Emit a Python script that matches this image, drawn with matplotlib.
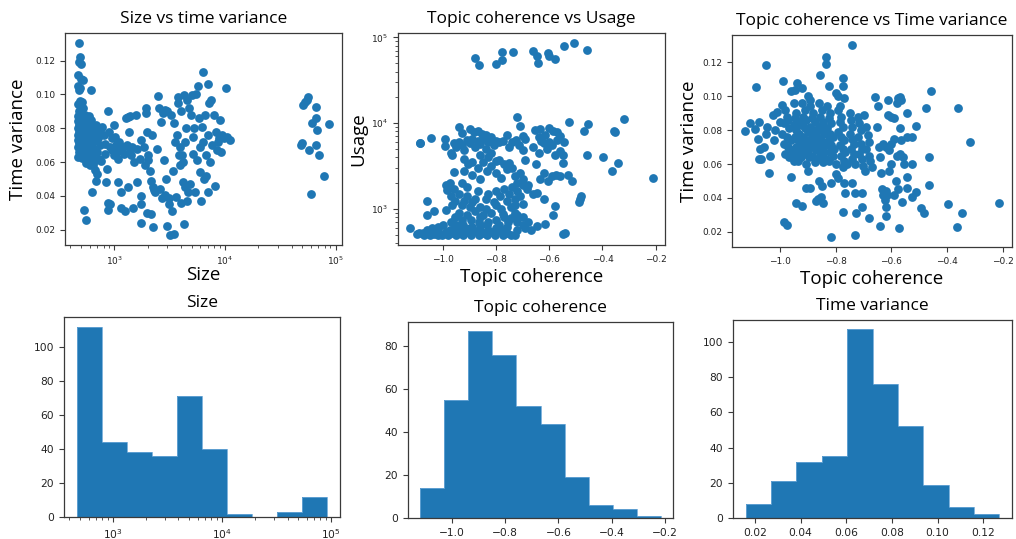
import numpy as np
import matplotlib
matplotlib.use("Agg")
import matplotlib.pyplot as plt

# ---------------- data ----------------
# Scatter 1: Size vs time variance  (size, time variance)
size_tv_pairs = [
    (480,.1307),(492,.1224),(478,.1190),(497,.1183),(472,.1118),(503,.1092),(518,.1086),(470,.1052),
    (492,.1040),(482,.1025),(486,.0962),(512,.0955),(470,.0942),(497,.0930),(522,.0922),(476,.0903),
    (500,.0890),(466,.0872),(490,.0862),(516,.0850),(470,.0842),(502,.0832),(480,.0820),(522,.0812),
    (466,.0802),(496,.0792),(476,.0780),(510,.0772),(470,.0762),(500,.0752),(486,.0742),(466,.0732),
    (515,.0722),(480,.0712),(502,.0702),(470,.0692),(492,.0682),(515,.0672),(476,.0662),(500,.0652),
    (486,.0642),(470,.0632),(510,.0625),(528,.0318),(558,.0255),
    (530,.0760),(535,.0700),(525,.0660),(530,.0820),(540,.0740),(520,.0690),(545,.0680),(535,.0650),
    (555,.0780),(528,.0860),(505,.0800),(520,.0785),
    (540,.0880),(560,.0862),(590,.0870),(622,.0850),(550,.0830),(580,.0822),(612,.0810),(652,.0802),
    (545,.0792),(575,.0780),(600,.0770),(640,.0762),(560,.0752),(590,.0742),(622,.0732),(662,.0722),
    (550,.0712),(580,.0702),(610,.0692),(645,.0682),(565,.0672),(600,.0662),(630,.0652),(555,.0642),
    (590,.0632),(625,.0622),(680,.0612),(560,.0595),(600,.0583),(612,.1026),(626,.0420),(700,.0530),
    (685,.0490),(670,.0555),(645,.0585),(700,.0780),(720,.0740),(740,.0700),(700,.0660),(730,.0620),
    (760,.0800),(690,.0820),
    (760,.0605),(780,.0810),(800,.0760),(820,.0705),(830,.0650),(870,.0900),(870,.0315),(880,.0360),
    (845,.0480),(860,.0560),(900,.0780),(920,.0690),(950,.0740),(960,.0670),(990,.0820),(1010,.0750),
    (1000,.0640),(920,.0350),(1040,.0700),(1060,.0660),(1080,.0480),(1090,.0620),(1100,.0720),
    (1130,.0680),(1150,.0420),(1160,.0330),(1200,.0690),(1230,.0650),(1260,.0310),(1280,.0858),
    (1300,.0700),(1320,.0450),(1340,.0866),(1360,.0780),(1380,.0670),(1400,.0875),(1420,.0640),
    (1450,.0690),(1480,.0330),(1500,.0600),
    (1560,.0877),(1600,.0680),(1610,.0480),(1700,.0620),(1730,.0400),(1730,.0350),(1730,.0240),
    (1750,.0730),(1850,.0690),(1900,.0580),(1940,.0920),(1950,.0890),(1960,.0300),(1980,.0780),
    (2000,.0640),(2020,.0615),(2100,.0550),(2130,.0290),(2150,.0490),(2200,.0760),(2250,.0216),
    (2250,.0450),(2300,.0437),(2350,.0420),(2450,.0680),(2500,.0990),(2550,.0920),(2600,.0440),
    (2650,.0840),(2700,.0390),(2750,.0890),(2800,.0610),(2850,.0910),(2900,.0405),(2950,.0500),
    (3000,.0900),(3000,.0220),
    (3100,.0350),(3150,.0390),(3200,.0166),(3250,.0880),(3300,.0310),(3400,.0550),(3450,.0830),
    (3500,.0175),(3550,.0720),(3600,.0395),(3700,.0760),(3750,.0985),(3800,.0950),(3850,.0640),
    (3900,.0580),(3950,.0690),(4000,.0360),(4050,.0900),(4100,.0640),(4150,.0480),(4200,.0600),
    (4250,.0996),(4300,.0236),(4350,.0720),(4400,.0450),(4450,.0800),(4500,.0370),(4550,.0970),
    (4600,.0420),
    (4700,.0920),(4800,.0470),(4900,.0880),(5000,.0999),(5100,.0650),(5200,.0750),(5300,.0800),
    (5400,.0420),(5500,.1000),(5600,.0610),(5700,.1050),(5800,.0860),(5900,.0540),(6000,.0690),
    (6100,.0370),(6200,.0810),(6300,.1133),(6400,.0720),(6500,.0500),(6600,.0880),(6700,.0640),
    (6800,.0520),(7000,.1060),(7000,.0760),(7100,.0420),(7200,.0950),(7300,.0600),
    (7500,.0970),(7700,.0700),(7900,.0880),(8100,.0460),(8300,.0780),(8500,.0670),(8700,.0720),
    (8900,.0740),(9100,.0850),(9300,.0660),(9500,.0760),(9900,.0740),(10200,.1036),(10500,.0750),
    (11200,.0730),
    (49000,.0700),(50000,.0715),(51000,.0940),(53000,.0955),(55500,.0970),(56500,.0987),(58000,.0670),
    (61000,.0830),(60500,.0410),(66000,.0925),(66000,.0860),(66500,.0701),(68000,.0790),(71000,.0640),
    (78000,.0516),(88000,.0825),
]

# Scatter 2: Topic coherence vs Usage  (coherence, usage)
coh_usage_pairs = [
    (-0.878,57500),(-0.866,47500),(-0.80,49000),(-0.778,54000),(-0.778,67000),(-0.736,67000),
    (-0.662,70000),(-0.647,61000),(-0.644,50000),(-0.605,66000),(-0.602,60000),(-0.578,56000),
    (-0.544,79000),(-0.508,87000),(-0.459,72000),
    (-1.124,600),(-1.10,510),(-1.088,5800),(-1.085,5900),(-1.045,6700),(-1.06,1250),(-1.06,850),
    (-1.034,950),(-1.075,520),(-1.06,560),(-1.05,500),(-1.03,540),(-1.02,500),
    (-0.94,8900),(-0.93,7600),(-0.90,8500),(-0.885,7800),(-0.87,8200),(-0.855,7500),(-0.84,7200),
    (-0.82,6800),(-0.80,6200),(-0.76,7200),(-0.72,11700),(-0.71,9200),(-0.70,7000),(-0.655,8300),
    (-0.635,8600),(-0.615,7200),(-0.60,8700),(-0.585,8200),(-0.57,7800),(-0.56,7000),(-0.64,6800),
    (-0.525,10200),
    (-0.994,6600),(-0.991,5400),(-0.96,5800),(-0.95,5200),(-0.94,6000),(-0.93,5500),(-0.92,4800),
    (-0.91,6400),(-0.90,5900),(-0.89,6600),(-0.88,5300),(-0.87,6200),(-0.86,5700),(-0.85,6500),
    (-0.84,5000),(-0.83,6000),(-0.82,4500),(-0.81,5600),(-0.79,6000),(-0.775,6200),(-0.75,5200),
    (-0.74,6000),(-0.725,6400),(-0.715,5600),(-0.70,4800),(-0.69,6500),(-0.66,5200),(-0.64,4500),
    (-0.63,6200),(-0.62,5800),(-0.61,5000),(-0.60,6100),(-0.59,5500),(-0.58,4300),(-0.57,6300),
    (-0.56,4700),(-0.55,4300),(-0.545,6000),(-0.965,4200),(-0.97,4500),
    (-0.96,2700),(-0.92,3800),(-0.905,3300),(-0.89,2500),(-0.87,3000),(-0.86,2200),(-0.85,3500),
    (-0.835,2800),(-0.82,3200),(-0.80,2600),(-0.79,3700),(-0.78,2300),(-0.76,2900),(-0.75,3400),
    (-0.73,2400),(-0.72,2000),(-0.70,2200),(-0.69,3700),(-0.68,1900),(-0.65,3300),(-0.635,2200),
    (-0.62,2600),(-0.605,2100),(-0.59,2400),(-0.575,2500),(-0.56,2400),(-0.55,3400),(-0.53,2500),
    (-0.515,2100),(-0.93,2000),(-0.91,1800),(-0.975,2000),(-0.985,1650),(-0.99,1900),
    (-0.97,1400),(-0.955,1250),(-0.94,1500),(-0.93,1100),(-0.91,1400),(-0.89,1200),(-0.87,1600),
    (-0.86,1050),(-0.84,1300),(-0.83,1500),(-0.80,1100),(-0.785,1400),(-0.77,1700),(-0.76,1250),
    (-0.745,1050),(-0.73,1300),(-0.72,1600),(-0.70,1150),(-0.685,1700),(-0.66,1500),(-0.645,1530),
    (-0.62,1300),(-0.58,1080),(-0.483,1300),(-0.481,1400),(-0.49,1200),
    (-0.99,960),(-0.97,700),(-0.955,800),(-0.94,900),(-0.925,650),(-0.91,850),(-0.895,750),
    (-0.88,950),(-0.865,700),(-0.85,850),(-0.835,650),(-0.82,900),(-0.80,750),(-0.79,650),
    (-0.775,880),(-0.76,620),(-0.745,780),(-0.73,900),(-0.72,700),(-0.70,650),(-0.69,600),
    (-0.67,560),(-0.645,630),(-0.615,670),(-0.586,850),(-1.00,650),(-1.02,620),(-1.04,600),
    (-1.09,520),(-1.07,500),(-1.05,540),(-1.035,510),(-1.02,560),(-1.005,500),(-0.99,540),
    (-0.98,500),(-0.965,520),(-0.95,490),(-0.94,560),(-0.925,500),(-0.91,530),(-0.895,490),
    (-0.88,550),(-0.865,500),(-0.85,520),(-0.835,490),(-0.82,540),(-0.805,500),(-0.79,560),
    (-0.775,490),(-0.76,520),(-0.745,500),(-0.73,500),(-0.95,580),(-0.90,590),(-0.86,570),
    (-0.542,520),(-0.548,510),
    (-0.95,650),(-0.93,750),(-0.92,1250),(-0.90,1050),(-0.88,1300),(-0.86,800),(-0.84,1000),
    (-0.83,700),(-0.81,1200),(-0.80,1600),(-0.78,1000),(-0.77,800),(-0.75,1500),(-0.74,1800),
    (-0.73,1100),(-0.72,850),(-0.71,1400),(-0.70,1900),(-0.71,2600),(-0.74,3000),(-0.77,3300),
    (-0.80,3600),(-0.83,4000),(-0.86,4200),(-0.89,3500),(-0.92,2800),(-0.96,1700),(-0.965,1100),
    (-0.955,650),(-0.975,560),(-0.92,600),(-0.89,620),(-0.86,650),(-0.83,560),(-0.80,600),
    (-0.77,560),(-0.755,700),(-0.72,560),(-0.70,800),(-0.68,700),
    (-0.469,8200),(-0.453,9700),(-0.459,4250),(-0.396,4050),(-0.364,2800),(-0.358,8000),
    (-0.352,7900),(-0.343,3400),(-0.317,11200),(-0.21,2270),
]

# Scatter 3: Topic coherence vs Time variance  (coherence, time variance)
coh_tv_pairs = [
    (-1.125,.0796),(-1.105,.0840),(-1.090,.0805),(-1.074,.0850),(-1.086,.1054),(-1.050,.1186),
    (-1.078,.0750),(-1.069,.0687),(-1.066,.0630),(-1.075,.0632),(-1.057,.0700),(-1.038,.0550),
    (-1.036,.0648),(-1.045,.0820),(-1.048,.0780),(-1.024,.0890),(-1.010,.0910),(-1.020,.0740),
    (-1.000,.0850),(-1.015,.0800),(-0.988,.1088),(-0.986,.0260),(-0.974,.0240),(-0.958,.0526),
    (-0.940,.0368),(-0.920,.0354),(-0.938,.1080),(-0.946,.1035),(-0.919,.1048),(-0.960,.1030),
    (-0.900,.1000),(-0.893,.0980),(-0.907,.0456),(-0.893,.0456),(-0.863,.0392),(-0.870,.0380),
    (-0.845,.0368),(-0.851,.0407),(-0.854,.1127),(-0.833,.1230),(-0.833,.1190),(-0.823,.1060),
    (-0.815,.0490),(-0.816,.0167),(-0.800,.1020),(-0.790,.1000),(-0.783,.0944),(-0.773,.1110),
    (-0.773,.1060),(-0.771,.0990),(-0.773,.0318),(-0.771,.0486),(-0.765,.0427),(-0.740,.1305),
    (-0.740,.0486),(-0.731,.0430),(-0.731,.0180),(-0.728,.0309),(-0.707,.0430),(-0.707,.0348),
    (-0.699,.0890),(-0.680,.0279),(-0.660,.0995),(-0.648,.0940),(-0.636,.0550),(-0.633,.0450),
    (-0.624,.0387),(-0.642,.0233),(-0.620,.0348),(-0.620,.0293),(-0.612,.0890),(-0.612,.0980),
    (-0.578,.0990),(-0.570,.0995),(-0.573,.0220),(-0.561,.0378),(-0.546,.0900),(-0.546,.0762),
    (-0.528,.0758),(-0.544,.0522),(-0.544,.0456),(-0.528,.0403),(-0.513,.0437),(-0.513,.0825),
    (-0.527,.0600),(-0.493,.0338),(-0.484,.0309),(-0.475,.0930),(-0.465,.0476),(-0.465,.0644),
    (-0.457,.1034),(-0.397,.0364),(-0.361,.0930),(-0.365,.0230),(-0.346,.0311),(-0.320,.0728),
    (-0.214,.0368),
    (-0.63,.0720),(-0.62,.0700),(-0.61,.0680),(-0.60,.0720),(-0.59,.0750),(-0.58,.0650),
    (-0.57,.0660),(-0.565,.0740),(-0.57,.0810),(-0.56,.0640),(-0.555,.0600),(-0.60,.0600),
    (-0.61,.0560),(-0.62,.0440),(-0.63,.0420),(-0.615,.0420),(-0.59,.0420),(-0.575,.0450),
    (-0.585,.0500),(-0.60,.0880),(-0.59,.0870),(-0.58,.0960),(-0.565,.0980),(-0.65,.0820),
    (-0.64,.0640),(-0.645,.0700),
    (-0.99,.0950),(-0.98,.0920),(-0.975,.0880),(-0.97,.0860),(-0.985,.0840),(-0.965,.0810),
    (-0.99,.0780),(-0.975,.0760),(-0.96,.0740),(-0.985,.0720),(-0.97,.0700),(-0.955,.0680),
    (-0.98,.0660),(-0.965,.0640),(-0.95,.0620),
    (-0.95,.0960),(-0.94,.0900),(-0.945,.0870),(-0.935,.0850),(-0.95,.0830),(-0.94,.0800),
    (-0.93,.0780),(-0.945,.0760),(-0.935,.0740),(-0.925,.0720),(-0.94,.0700),(-0.93,.0680),
    (-0.945,.0660),(-0.925,.0640),(-0.935,.0620),
    (-0.92,.0960),(-0.91,.0920),(-0.915,.0880),(-0.905,.0860),(-0.92,.0830),(-0.91,.0810),
    (-0.90,.0790),(-0.915,.0760),(-0.905,.0740),(-0.895,.0720),(-0.91,.0700),(-0.90,.0680),
    (-0.915,.0660),(-0.895,.0640),(-0.905,.0600),(-0.90,.0560),
    (-0.89,.0940),(-0.88,.0900),(-0.885,.0870),(-0.875,.0850),(-0.89,.0820),(-0.88,.0800),
    (-0.87,.0780),(-0.885,.0760),(-0.875,.0740),(-0.865,.0720),(-0.88,.0700),(-0.87,.0680),
    (-0.885,.0650),(-0.865,.0630),(-0.875,.0610),(-0.86,.0500),
    (-0.86,.0960),(-0.85,.0920),(-0.855,.0880),(-0.845,.0850),(-0.86,.0820),(-0.85,.0800),
    (-0.84,.0780),(-0.855,.0750),(-0.845,.0730),(-0.835,.0710),(-0.85,.0690),(-0.84,.0670),
    (-0.855,.0650),(-0.835,.0630),(-0.845,.0610),(-0.85,.0470),
    (-0.83,.0940),(-0.82,.0900),(-0.825,.0870),(-0.815,.0840),(-0.83,.0810),(-0.82,.0780),
    (-0.81,.0760),(-0.825,.0740),(-0.815,.0710),(-0.805,.0690),(-0.82,.0670),(-0.81,.0650),
    (-0.825,.0620),(-0.80,.0600),(-0.80,.0540),(-0.79,.0520),
    (-0.79,.0920),(-0.78,.0880),(-0.785,.0850),(-0.775,.0820),(-0.79,.0790),(-0.78,.0760),
    (-0.77,.0740),(-0.785,.0710),(-0.775,.0690),(-0.765,.0670),(-0.78,.0650),(-0.77,.0620),
    (-0.76,.0600),(-0.775,.0580),
    (-0.75,.0900),(-0.745,.0860),(-0.74,.0820),(-0.75,.0780),(-0.74,.0750),(-0.735,.0720),
    (-0.745,.0690),(-0.735,.0660),(-0.74,.0630),(-0.73,.0600),
    (-0.72,.0880),(-0.715,.0840),(-0.71,.0800),(-0.72,.0760),(-0.71,.0720),(-0.705,.0690),
    (-0.715,.0660),(-0.705,.0630),(-0.70,.0590),(-0.695,.0560),
    (-0.69,.0820),(-0.685,.0770),(-0.68,.0730),(-0.69,.0690),(-0.68,.0650),(-0.675,.0620),
    (-0.67,.0580),
]

# Histograms (pre-binned counts, 10 bins each)
size_counts = [112, 44, 38, 36, 71, 40, 2, 0, 3, 12]
size_range = (466, 92900)          # log-spaced bins
coh_counts = [14, 55, 87, 76, 52, 44, 19, 6, 4, 1]
coh_range = (-1.12, -0.215)
tv_counts = [8, 21, 32, 35, 107, 76, 52, 19, 6, 2]
tv_range = (0.016, 0.127)

titles = ["Size vs time variance", "Topic coherence vs Usage", "Topic coherence vs Time variance",
          "Size", "Topic coherence", "Time variance"]

# ---------------- drawing ----------------
BLUE = "#1f77b4"
TFONT = "Open Sans"

fig = plt.figure(figsize=(10.16, 5.39), dpi=100)
W, H = 1016, 539

def axes_px(x0, y0, x1, y1):
    return fig.add_axes([x0 / W, 1 - y1 / H, (x1 - x0) / W, (y1 - y0) / H])

def style(ax, tick_size):
    for s in ax.spines.values():
        s.set_color("#3a3a3a")
        s.set_linewidth(0.9)
    ax.tick_params(which="both", colors="#3a3a3a", labelsize=tick_size, labelcolor="#222222")

ax1 = axes_px(65, 33, 342, 245)
ax2 = axes_px(398, 33, 665, 245)
ax3 = axes_px(732, 35, 1012, 247)
ax4 = axes_px(64, 317, 340, 517)
ax5 = axes_px(408, 322, 673, 518)
ax6 = axes_px(733, 320, 1012, 518)

s1x, s1y = zip(*size_tv_pairs)
ax1.scatter(s1x, s1y, s=40, color=BLUE, linewidths=0)
ax1.set_xscale("log")
ax1.set_xlabel("Size", fontsize=13.5, family=TFONT, labelpad=-1)
ax1.set_ylabel("Time variance", fontsize=13.5, family=TFONT, labelpad=6)

s2x, s2y = zip(*coh_usage_pairs)
ax2.scatter(s2x, s2y, s=40, color=BLUE, linewidths=0)
ax2.set_yscale("log")
ax2.set_xlabel("Topic coherence", fontsize=13.5, family=TFONT, labelpad=3)
ax2.set_ylabel("Usage", fontsize=13.5, family=TFONT, labelpad=3)

s3x, s3y = zip(*coh_tv_pairs)
ax3.scatter(s3x, s3y, s=40, color=BLUE, linewidths=0)
ax3.set_xlabel("Topic coherence", fontsize=13.5, family=TFONT, labelpad=3)
ax3.set_ylabel("Time variance", fontsize=13.5, family=TFONT, labelpad=3)

size_edges = np.geomspace(size_range[0], size_range[1], len(size_counts) + 1)
ax4.stairs(size_counts, size_edges, fill=True, color=BLUE)
ax4.stairs(size_counts, size_edges, color="#6aa6d6", linewidth=0.6, baseline=0)
ax4.set_xscale("log")

coh_edges = np.linspace(coh_range[0], coh_range[1], len(coh_counts) + 1)
ax5.stairs(coh_counts, coh_edges, fill=True, color=BLUE)
ax5.stairs(coh_counts, coh_edges, color="#6aa6d6", linewidth=0.6, baseline=0)

tv_edges = np.linspace(tv_range[0], tv_range[1], len(tv_counts) + 1)
ax6.stairs(tv_counts, tv_edges, fill=True, color=BLUE)
ax6.stairs(tv_counts, tv_edges, color="#6aa6d6", linewidth=0.6, baseline=0)

for ax in (ax4, ax5, ax6):
    ax.margins(x=0.05, y=0.05)
    ax.set_ylim(bottom=0)

for ax, t in zip((ax1, ax2, ax3, ax4, ax5, ax6), titles):
    ax.set_title(t, fontsize=12.5, family=TFONT, pad=7)

for ax in (ax1, ax2, ax3):
    style(ax, 6.5)
for ax in (ax4, ax5, ax6):
    style(ax, 7.7)

fig.savefig("out.png", dpi=100)
